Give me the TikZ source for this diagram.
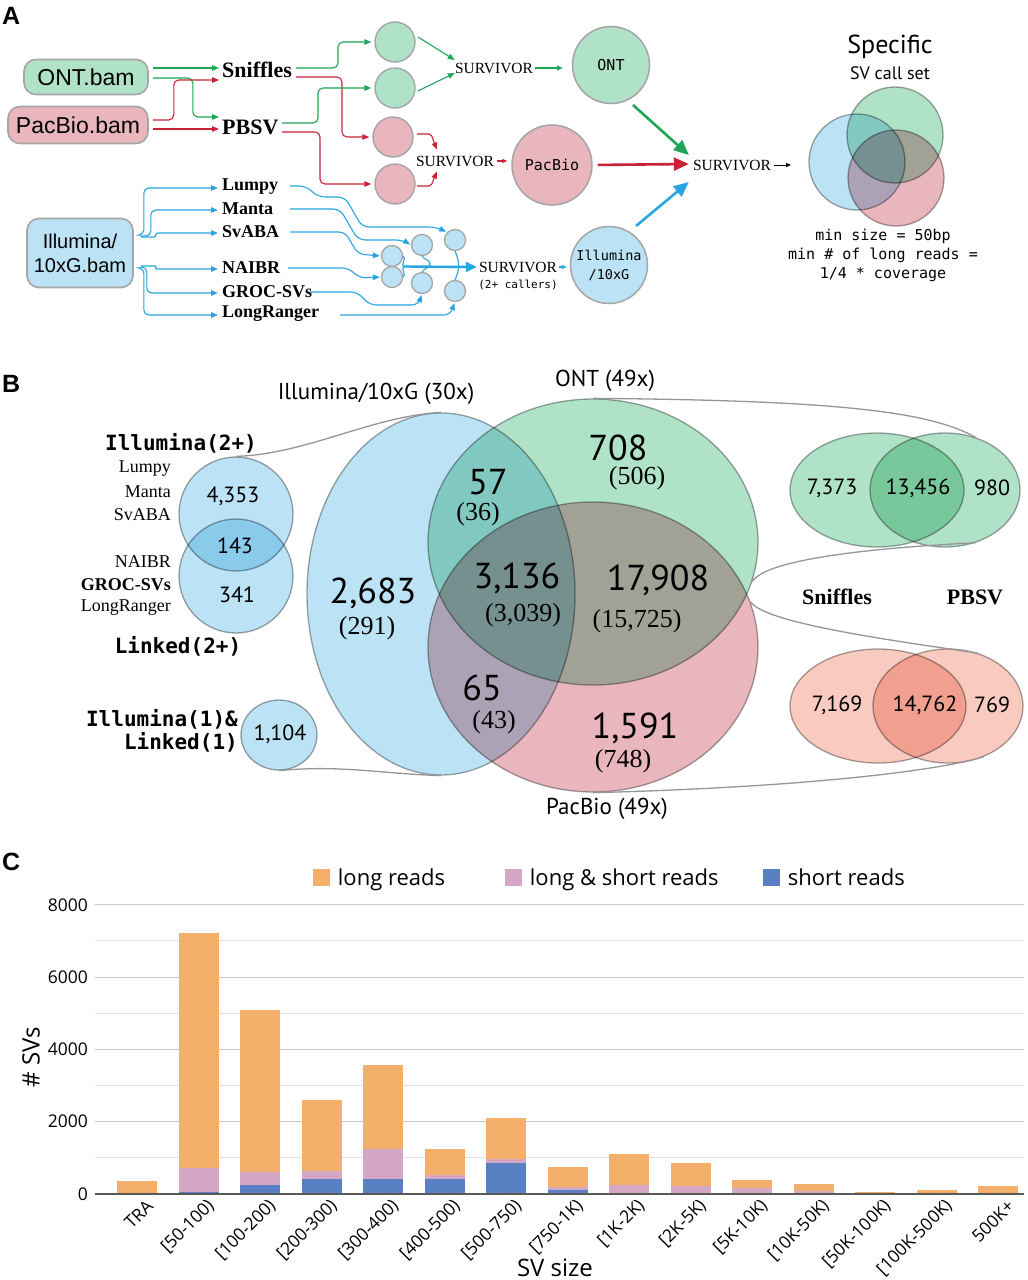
\documentclass[tikz,border=0pt]{standalone}
\usepackage{fontspec}
\setmainfont{Liberation Serif}
\newfontfamily\hel{Liberation Sans}
\newfontfamily\myr{PT Sans}
\newfontfamily\osn{Open Sans}
\newfontfamily\mon{DejaVu Sans Mono}
\usetikzlibrary{arrows.meta,shapes.geometric,calc}
\newcommand\fsz[2]{\fontsize{#1}{#2}\selectfont}
\definecolor{gfill}{RGB}{176,226,200}
\definecolor{rfill}{RGB}{234,182,190}
\definecolor{bfill}{RGB}{188,227,245}
\definecolor{bordc}{RGB}{165,165,165}
\definecolor{garr}{RGB}{30,165,85}
\definecolor{rarr}{RGB}{200,35,55}
\definecolor{barr}{RGB}{40,165,225}
\definecolor{sfill}{RGB}{248,202,192}
\definecolor{orangeb}{RGB}{244,176,106}
\definecolor{pinkb}{RGB}{213,167,198}
\definecolor{blueb}{RGB}{90,128,196}
\definecolor{func}{RGB}{150,150,150}
\tikzset{
  bamnode/.style={draw=bordc, line width=1.6pt, rounded corners=12pt, inner sep=0pt},
  tool/.style={anchor=west, inner sep=0pt, font=\bfseries\fsz{18}{20}},
  surv/.style={inner sep=0pt, font=\fsz{15.5}{17}},
  tip/.style={-{Triangle[length=7pt,width=5.5pt]}},
  ga/.style={draw=garr, line width=1.1pt, rounded corners=5pt, tip},
  ra/.style={draw=rarr, line width=1.1pt, rounded corners=5pt, tip},
  ba/.style={draw=barr, line width=1.1pt, rounded corners=5pt, tip},
  bl/.style={draw=barr, line width=1.1pt},
  big/.style={line width=2.6pt, -{Triangle[length=15pt,width=13pt]}},
  smallc/.style={circle, draw=bordc, line width=1.4pt, minimum size=40pt, inner sep=0pt},
  tinyc/.style={circle, draw=bordc, line width=1.3pt, fill=bfill, minimum size=21pt, inner sep=0pt},
  vline/.style={draw=bordc, line width=1.3pt},
  funnel/.style={draw=func, line width=1.3pt},
  bign/.style={font=\myr\fsz{36}{38}, inner sep=0pt},
  par/.style={font=\fsz{26}{28}, inner sep=0pt},
  smn/.style={font=\myr\fsz{22}{24}, inner sep=0pt},
  lst/.style={anchor=east, inner sep=0pt, font=\fsz{18}{20}},
  monob/.style={font=\mon\bfseries\fsz{21}{23}, inner sep=0pt},
  lbl/.style={font=\hel\bfseries\fsz{25}{27}, anchor=west, inner sep=0pt},
  legt/.style={anchor=base west, font=\osn\fsz{22}{24}, inner sep=0pt},
}
\begin{document}
\begin{tikzpicture}[x=1pt,y=-1pt]
\useasboundingbox (0,0) rectangle (1028,1280);
\fill[white] (0,0) rectangle (1028,1280);

%% ================= PANEL A =================
\node[lbl] (lA) at (2,16) {A};
\node[bamnode, fill=gfill, minimum width=124pt, minimum height=35pt, font=\hel\fsz{23}{26}] (ontbam) at (86,77) {ONT.bam};
\node[bamnode, fill=rfill, minimum width=140pt, minimum height=37pt, font=\hel\fsz{23}{26}] (pacbam) at (78,125) {PacBio.bam};
\node[bamnode, fill=bfill, minimum width=106pt, minimum height=69pt, align=center, font=\hel\fsz{20}{24}] (illbam) at (80,253) {Illumina/\\10xG.bam};

\node[tool, font=\bfseries\fsz{22}{24}] (snf) at (222,70) {Sniffles};
\node[tool, font=\bfseries\fsz{22}{24}] (pbsv) at (222,127) {PBSV};
\node[tool] (lumpy) at (222,187) {Lumpy};
\node[tool] (manta) at (222,209) {Manta};
\node[tool] (svaba) at (222,232) {SvABA};
\node[tool] (naibr) at (222,268) {NAIBR};
\node[tool] (groc) at (222,292) {GROC-SVs};
\node[tool] (longr) at (222,314) {LongRanger};

% inputs to callers
\draw[ga] ($(ontbam.east)+(4,-9)$) -- ($(snf.west)+(-3,-2)$);
\draw[ga] ($(ontbam.east)+(4,1)$) -- ++(40,0) |- ($(pbsv.west)+(-3,-10)$);
\draw[ra] ($(pacbam.east)+(4,-5)$) -- ++(21,0) |- ($(snf.west)+(-3,10)$);
\draw[ra] ($(pacbam.east)+(4,4)$) -- ($(pbsv.west)+(-3,2)$);

% per-caller calls
\node[smallc, fill=gfill] (gc1) at (395,42) {};
\node[smallc, fill=gfill] (gc2) at (395,88) {};
\node[smallc, fill=rfill] (rc1) at (393,137) {};
\node[smallc, fill=rfill] (rc2) at (395,184) {};
\draw[ga, shorten >=3pt] ($(snf.west)+(74,-2)$) -- ++(42,0) |- (gc1.west);
\draw[ra, shorten >=3pt] ($(snf.west)+(74,7)$) -- ++(46,0) |- (rc1.west);
\draw[ga, shorten >=3pt] ($(pbsv.west)+(60,-4)$) -- ++(36,0) |- (gc2.west);
\draw[ra, shorten >=3pt] ($(pbsv.west)+(60,5)$) -- ++(38,0) |- (rc2.west);

\node[surv] (survG) at (494,68) {SURVIVOR};
\node[surv] (survR) at (455,161) {SURVIVOR};
\draw[ga] ($(gc1)+(23,-5)$) -- ($(survG.west)+(0,-8)$);
\draw[ga] ($(gc2)+(23,3)$) -- ($(survG.west)+(0,5)$);
\draw[ra, rounded corners=2pt] ($(rc1)+(24,-3)$) -- ++(14,0) -- ($(survR.north west)+(21,-6)$);
\draw[ra, rounded corners=2pt] ($(rc2)+(22,2)$) -- ++(14,0) -- ($(survR.south west)+(21,5)$);

\node[circle, draw=bordc, line width=1.5pt, fill=gfill, minimum size=77pt, inner sep=0pt, font=\mon\fsz{15}{17}] (ont) at (611,65) {ONT};
\node[circle, draw=bordc, line width=1.5pt, fill=rfill, minimum size=80pt, inner sep=0pt, font=\mon\fsz{15}{17}] (pac) at (552,165) {PacBio};
\node[circle, draw=bordc, line width=1.5pt, fill=bfill, minimum size=77pt, inner sep=0pt, align=center, font=\mon\fsz{13.5}{19}] (ill) at (609,265) {Illumina\\/10xG};

\draw[ga, -{Triangle[length=6pt,width=5pt]}] ($(survG.east)+(2,0)$) -- ($(survG.east -| ont.west)+(-9,0)$);
\draw[ra, -{Triangle[length=5pt,width=4pt]}] ($(survR.east)+(3,0)$) -- ($(survR.east -| pac.west)+(-4,0)$);

% illumina branch
\draw[ba] ($(illbam.east)+(7,-18)$) -- ++(3,0) |- ($(lumpy.west)+(-4,1)$);
\draw[ba] ($(illbam.east)+(7,-17)$) -- ++(10,0) |- ($(manta.west)+(-4,1)$);
\draw[ba, rounded corners=2pt] ($(illbam.east)+(7,-16)$) -- ++(15,0) |- ($(svaba.west)+(-4,1)$);
\draw[ba, rounded corners=2pt] ($(illbam.east)+(7,13)$) -- ++(15,0) |- ($(naibr.west)+(-4,1)$);
\draw[ba] ($(illbam.east)+(7,14)$) -- ++(6,0) |- ($(groc.west)+(-4,1)$);
\draw[ba] ($(illbam.east)+(7,15)$) -- ++(3,0) |- ($(longr.west)+(-4,1)$);

\node[tinyc] (b1) at (392,256) {};
\node[tinyc] (b2) at (392,277) {};
\node[tinyc] (b3) at (422,245) {};
\node[tinyc] (b4) at (422,283) {};
\node[tinyc] (b5) at (455,240) {};
\node[tinyc] (b6) at (455,291) {};

\draw[ba, rounded corners=7pt, shorten >=1pt] ($(lumpy.west)+(68,-1)$) -- ++(16,0) -- ++(12,11) -- ++(27,0) -- ++(17,30) -- ++(74,0) -- (b5.north west);
\draw[ba, rounded corners=7pt, shorten >=1pt] ($(manta.west)+(68,0)$) -- ++(50,0) -- ++(18,31) -- ++(45,0) -- (b3.west);
\draw[ba, rounded corners=6pt, shorten >=1pt] ($(svaba.west)+(68,0)$) -- ++(55,0) -- ++(13,22) -- (b1.west);
\draw[ba, rounded corners=6pt, shorten >=1pt] ($(naibr.west)+(66,0)$) -- ++(60,0) -- ++(12,10) -- (b2.west);
\draw[ba, rounded corners=6pt, shorten >=1pt] ($(groc.west)+(88,0)$) -- ++(47,0) -- ++(13,13) -- ++(48,0) -- (b4.south);
\draw[ba, rounded corners=6pt, shorten >=1pt] ($(longr.west)+(118,1)$) -- ++(110,0) -- (b6.south);

\coordinate (jn) at ($(b1)!0.5!(b2)+(12,0)$);
\draw[bl] (b1.east) to[out=-20,in=180] (jn);
\draw[bl] (b2.east) to[out=20,in=180] (jn);
\draw[bl] (b3.south) to[out=-60,in=90] ($(b3)!0.5!(b4)+(8,0)$) to[out=-90,in=60] (b4.north);
\draw[bl] (b5.south) to[bend left=25] (b6.north);

\node[surv] (survB) at (518,267) {SURVIVOR};
\node[font=\mon\fsz{11}{13}, inner sep=0pt] (callers) at (518,285) {(2+ callers)};
\draw[draw=barr, big, line width=2.4pt, -{Triangle[length=11pt,width=10pt]}] (jn) -- ($(survB.west)+(-2,0)$);
\draw[ba, -{Triangle[length=5pt,width=4pt]}] ($(survB.east)+(2,0)$) -- ($(survB.east -| ill.west)+(-3,0)$);

\node[surv] (survF) at (732,165) {SURVIVOR};
\draw[draw=garr, big] ($(ont)+(22,40)$) -- ($(survF.west)+(-4,-10)$);
\draw[draw=rarr, big, shorten <=5pt] (pac.east) -- ($(survF.west)+(-4,-1)$);
\draw[draw=barr, big] ($(ill)+(27,-39)$) -- ($(survF.west)+(-4,17)$);
\coordinate (vin) at (791,165);
\draw[line width=0.9pt, -{Triangle[length=5pt,width=4pt]}] ($(survF.east)+(3,0)$) -- (vin);

\begin{scope}[blend mode=multiply]
\node[circle, minimum size=96pt, inner sep=0pt, fill=bfill, vline] (va1) at (857,162) {};
\node[circle, minimum size=96pt, inner sep=0pt, fill=gfill, vline] (va2) at (895,135) {};
\node[circle, minimum size=96pt, inner sep=0pt, fill=rfill, vline] (va3) at (896,178) {};
\end{scope}
\node[font=\myr\fsz{26}{28}, inner sep=0pt] (spec) at (890,47) {Specific};
\node[font=\myr\fsz{18}{20}, inner sep=0pt] (svc) at (890,73) {SV call set};
\node[font=\mon\fsz{15}{19}, align=center, inner sep=0pt] (minsz) at (883,255) {min size = 50bp\\min \# of long reads =\\1/4 * coverage};

%% ================= PANEL B =================
\node[lbl] (lB) at (2,384) {B};
\begin{scope}[blend mode=multiply]
\node[ellipse, minimum width=268pt, minimum height=362pt, inner sep=0pt, fill=bfill, vline] (bel) at (441,594) {};
\node[ellipse, minimum width=330pt, minimum height=286pt, inner sep=0pt, fill=gfill, vline] (gel) at (593,542) {};
\node[ellipse, minimum width=330pt, minimum height=290pt, inner sep=0pt, fill=rfill, vline] (rel) at (593,647) {};
\node[circle, minimum size=114pt, inner sep=0pt, fill=bfill, vline] (il2) at (236,514) {};
\node[circle, minimum size=114pt, inner sep=0pt, fill=bfill, vline] (lk2) at (236,576) {};
\node[ellipse, minimum width=76pt, minimum height=70pt, inner sep=0pt, fill=bfill, vline] (lk1) at (279,735) {};
\node[ellipse, minimum width=174pt, minimum height=114pt, inner sep=0pt, fill=gfill, vline] (sg) at (877,490) {};
\node[ellipse, minimum width=150pt, minimum height=114pt, inner sep=0pt, fill=gfill, vline] (pg) at (945,490) {};
\node[ellipse, minimum width=176pt, minimum height=114pt, inner sep=0pt, fill=sfill, vline] (sr) at (878,706) {};
\node[ellipse, minimum width=150pt, minimum height=114pt, inner sep=0pt, fill=sfill, vline] (pr) at (948,706) {};
\end{scope}

\draw[funnel] (il2.north) .. controls +(70,-2) and +(-70,4) .. (bel.north);
\draw[funnel] (lk1.south) .. controls +(60,-6) and +(-60,-2) .. (bel.south);
\draw[funnel] (gel.north) .. controls +(250,2) and +(-45,-25) .. (pg.60);
\draw[funnel] (gel.-14) .. controls +(15,-25) and +(-80,4) .. (pg.-60);
\draw[funnel] (rel.16) .. controls +(15,22) and +(-80,-12) .. (pr.60);
\draw[funnel] (rel.south) .. controls +(200,-5) and +(-50,15) .. (pr.-55);

\node[font=\myr\fsz{23}{25}, inner sep=0pt] (tIll) at (376,394) {Illumina/10xG (30x)};
\node[font=\myr\fsz{23}{25}, inner sep=0pt] (tOnt) at (605,381) {ONT (49x)};
\node[font=\myr\fsz{23}{25}, inner sep=0pt] (tPac) at (607,809) {PacBio (49x)};

\node[bign] (n1) at (373,593) {2,683};
\node[par] (p1) at (367,628) {(291)};
\node[bign] (n2) at (488,482) {57};
\node[par] (p2) at (478,514) {(36)};
\node[bign] (n3) at (618,448) {708};
\node[par] (p3) at (637,478) {(506)};
\node[bign] (n4) at (517,578) {3,136};
\node[par] (p4) at (523,615) {(3,039)};
\node[bign] (n5) at (658,580) {17,908};
\node[par] (p5) at (637,621) {(15,725)};
\node[bign] (n6) at (482,688) {65};
\node[par] (p6) at (494,722) {(43)};
\node[bign] (n7) at (635,728) {1,591};
\node[par] (p7) at (623,761) {(748)};

\node[smn] (s1) at (233,496) {4,353};
\node[smn] (s2) at (235,546) {143};
\node[smn] (s3) at (237,595) {341};
\node[smn] (s4) at (280,734) {1,104};
\node[monob] (tI2) at (181,443) {Illumina(2+)};
\node[monob] (tL2) at (178,646) {Linked(2+)};
\node[monob, anchor=east, align=right] (tIL1) at (238,731) {Illumina(1)\&\\Linked(1)};
\node[lst] (bl1) at (171,469) {Lumpy};
\node[lst] (bl2) at (171,492) {Manta};
\node[lst] (bl3) at (171,515) {SvABA};
\node[lst] (bl4) at (171,562) {NAIBR};
\node[lst, font=\bfseries\fsz{18}{20}] (bl5) at (171,585) {GROC-SVs};
\node[lst] (bl6) at (171,608) {LongRanger};

\node[smn] (r1) at (832,488) {7,373};
\node[smn] (r2) at (918,488) {13,456};
\node[smn] (r3) at (992,488) {980};
\node[smn] (r4) at (837,705) {7,169};
\node[smn] (r5) at (925,705) {14,762};
\node[smn] (r6) at (992,705) {769};
\node[font=\bfseries\fsz{22}{24}, inner sep=0pt] (tsn) at (837,597) {Sniffles};
\node[font=\bfseries\fsz{22}{24}, inner sep=0pt] (tpb) at (975,597) {PBSV};

%% ================= PANEL C =================
\node[lbl] (lC) at (2,862) {C};
\node[fill=orangeb, minimum size=17pt, inner sep=0pt] (lg1) at (321,877) {};
\node[fill=pinkb, minimum size=17pt, inner sep=0pt] (lg2) at (513,877) {};
\node[fill=blueb, minimum size=17pt, inner sep=0pt] (lg3) at (771,877) {};
\node[legt] (lt1) at ($(lg1.east)+(8,8)$) {long reads};
\node[legt] (lt2) at ($(lg2.east)+(8,8)$) {long \& short reads};
\node[legt] (lt3) at ($(lg3.east)+(8,8)$) {short reads};

\foreach \v in {1000,3000,5000,7000}
  \draw[black!12, line width=1pt] (95,{1194-\v*0.03615}) -- (1024,{1194-\v*0.03615});
\foreach \v in {2000,4000,6000,8000}
  \draw[black!22, line width=1.1pt] (95,{1194-\v*0.03615}) -- (1024,{1194-\v*0.03615});
\foreach \v in {0,2000,4000,6000,8000}
  \node[anchor=east, font=\osn\fsz{17.5}{20}, inner sep=0pt] (yt\v) at (88,{1194-\v*0.03615}) {\v};
\node[rotate=90, font=\osn\fsz{24}{26}, inner sep=0pt] (ylab) at (31,1057) {\# SVs};

\foreach \i/\s/\p/\t in {0/10/15/360, 1/60/720/7220, 2/250/610/5090, 3/410/640/2600, 4/410/1245/3570, 5/410/530/1245, 6/850/970/2100, 7/120/190/750, 8/30/250/1100, 9/20/220/850, 10/10/160/390, 11/40/80/270, 12/0/10/60, 13/0/5/120, 14/0/5/230} {
  \pgfmathsetmacro\cx{137+61.5*\i}
  \fill[orangeb] ({\cx-20},1194) rectangle ({\cx+20},{1194-\t*0.03615});
  \fill[pinkb] ({\cx-20},1194) rectangle ({\cx+20},{1194-\p*0.03615});
  \fill[blueb] ({\cx-20},1194) rectangle ({\cx+20},{1194-\s*0.03615});
}
\draw[line width=1.3pt, black!65] (95,1194) -- (1024,1194);

\foreach \i/\l in {0/TRA, 1/{[50-100)}, 2/{[100-200)}, 3/{[200-300)}, 4/{[300-400)}, 5/{[400-500)}, 6/{[500-750)}, 7/{[750-1K)}, 8/{[1K-2K)}, 9/{[2K-5K)}, 10/{[5K-10K)}, 11/{[10K-50K)}, 12/{[50K-100K)}, 13/{[100K-500K)}, 14/{500K+}} {
  \pgfmathsetmacro\cx{137+61.5*\i}
  \node[rotate=45, anchor=east, font=\osn\fsz{17.5}{19}, inner sep=0pt] (xl\i) at ({\cx+13},1203) {\l};
}
\node[font=\osn\fsz{24}{26}, inner sep=0pt] (xlab) at (555,1268) {SV size};
\end{tikzpicture}
\end{document}
